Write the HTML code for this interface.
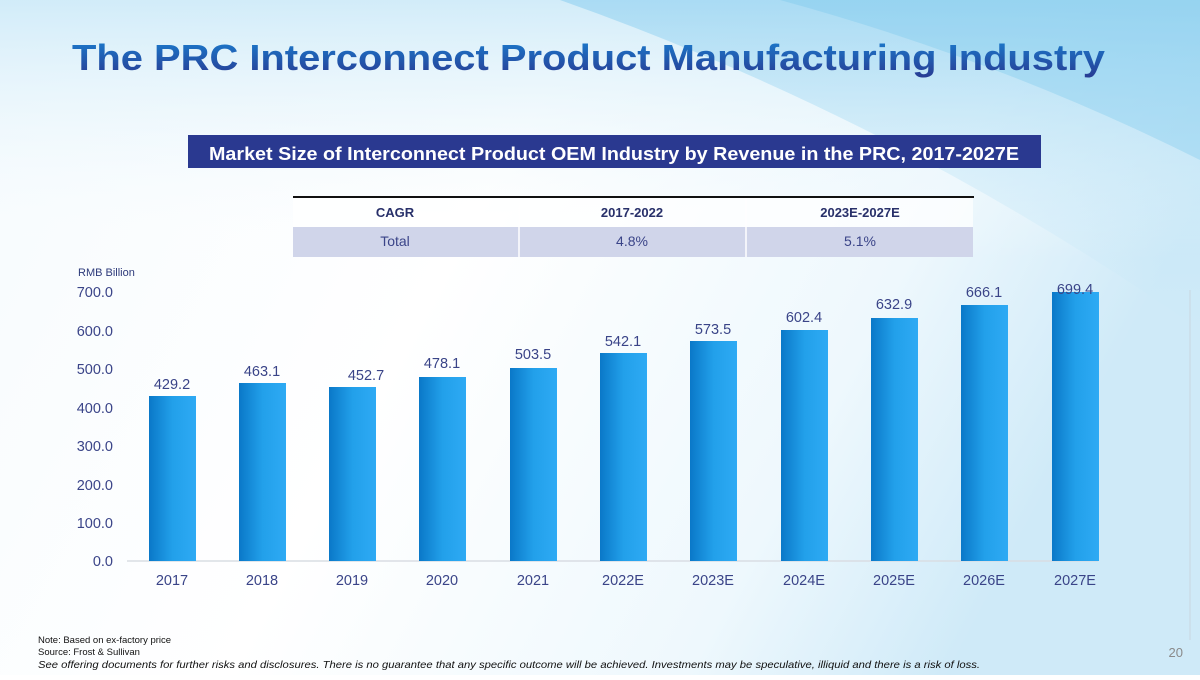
<!DOCTYPE html>
<html><head><meta charset="utf-8"><style>
html,body{margin:0;padding:0;}
body{width:1200px;height:675px;overflow:hidden;}
svg text{font-family:"Liberation Sans",Arial,sans-serif;}
</style></head><body>
<svg width="1200" height="675" viewBox="0 0 1200 675" xmlns="http://www.w3.org/2000/svg">
<defs>
<linearGradient id="bg" x1="0" y1="0" x2="1" y2="0.3">
<stop offset="0" stop-color="#f6fbfe"/>
<stop offset="0.45" stop-color="#ffffff"/>
<stop offset="0.8" stop-color="#eef8fd"/>
<stop offset="1" stop-color="#cfeaf8"/>
</linearGradient>
<linearGradient id="topg" x1="0" y1="0" x2="0" y2="1">
<stop offset="0" stop-color="#cdeaf8" stop-opacity="0.9"/>
<stop offset="1" stop-color="#ffffff" stop-opacity="0"/>
</linearGradient>
<linearGradient id="tt" x1="0" y1="0" x2="0" y2="1">
<stop offset="0" stop-color="#1a7fd0"/>
<stop offset="1" stop-color="#283a92"/>
</linearGradient>
<linearGradient id="bar" x1="0" y1="0" x2="1" y2="0">
<stop offset="0" stop-color="#0a78c8"/>
<stop offset="0.5" stop-color="#22a0ea"/>
<stop offset="1" stop-color="#2eaaf4"/>
</linearGradient>
<linearGradient id="sw" x1="0" y1="0" x2="0" y2="1">
<stop offset="0" stop-color="#8fd0f0" stop-opacity="0.6"/>
<stop offset="1" stop-color="#bfe5f7" stop-opacity="0"/>
</linearGradient>
</defs>
<rect width="1200" height="675" fill="url(#bg)"/>
<rect width="1200" height="260" fill="url(#topg)"/>
<path d="M560 0 L1200 0 L1200 330 Q900 120 560 0Z" fill="url(#sw)"/>
<path d="M780 0 L1200 0 L1200 160 Q1000 60 780 0Z" fill="#6cc2ec" opacity="0.3"/>
<line x1="1190" y1="290" x2="1190" y2="640" stroke="#c9d6df" stroke-width="1"/>

<text x="72" y="70" font-size="36" font-weight="bold" fill="url(#tt)" textLength="1033" lengthAdjust="spacingAndGlyphs">The PRC Interconnect Product Manufacturing Industry</text>

<rect x="188" y="135" width="853" height="33" fill="#2a3990"/>
<text x="614" y="160" font-size="18" font-weight="bold" fill="#fff" text-anchor="middle" textLength="810" lengthAdjust="spacingAndGlyphs">Market Size of Interconnect Product OEM Industry by Revenue in the PRC, 2017-2027E</text>

<rect x="293" y="198" width="680" height="29" fill="#ffffff" opacity="0.7"/>
<rect x="293" y="227" width="680" height="30" fill="#d0d5ea"/>
<line x1="293" y1="197" x2="974" y2="197" stroke="#111" stroke-width="2"/>
<line x1="519" y1="198" x2="519" y2="257" stroke="#fff" stroke-width="1.5"/>
<line x1="746" y1="198" x2="746" y2="257" stroke="#fff" stroke-width="1.5"/>
<g font-size="13" font-weight="bold" fill="#28306a" text-anchor="middle">
<text x="395" y="217">CAGR</text><text x="632" y="217">2017-2022</text><text x="860" y="217">2023E-2027E</text>
</g>
<g font-size="14" fill="#3a4488" text-anchor="middle">
<text x="395" y="246">Total</text><text x="632" y="246">4.8%</text><text x="860" y="246">5.1%</text>
</g>

<text x="78" y="276" font-size="11" fill="#2d3a7a">RMB Billion</text>
<g font-size="14.5" fill="#3a4488" text-anchor="end">
<text x="113" y="297">700.0</text><text x="113" y="336">600.0</text><text x="113" y="374">500.0</text>
<text x="113" y="413">400.0</text><text x="113" y="451">300.0</text><text x="113" y="490">200.0</text>
<text x="113" y="528">100.0</text><text x="113" y="566">0.0</text>
</g>
<line x1="127" y1="561" x2="1098" y2="561" stroke="#d9dde3" stroke-width="1.5"/>
<g fill="url(#bar)">
<rect x="149" y="396" width="47" height="165"/>
<rect x="239" y="383" width="47" height="178"/>
<rect x="329" y="387" width="47" height="174"/>
<rect x="419" y="377" width="47" height="184"/>
<rect x="510" y="368" width="47" height="193"/>
<rect x="600" y="353" width="47" height="208"/>
<rect x="690" y="341" width="47" height="220"/>
<rect x="781" y="330" width="47" height="231"/>
<rect x="871" y="318" width="47" height="243"/>
<rect x="961" y="305" width="47" height="256"/>
<rect x="1052" y="292" width="47" height="269"/>
</g>
<g font-size="14.5" fill="#3a4488" text-anchor="middle">
<text x="172" y="389">429.2</text><text x="262" y="376">463.1</text><text x="366" y="380">452.7</text>
<text x="442" y="368">478.1</text><text x="533" y="359">503.5</text><text x="623" y="346">542.1</text>
<text x="713" y="334">573.5</text><text x="804" y="322">602.4</text><text x="894" y="309">632.9</text>
<text x="984" y="297">666.1</text><text x="1075" y="294">699.4</text>
</g>
<g font-size="14.5" fill="#3a4488" text-anchor="middle">
<text x="172" y="585">2017</text><text x="262" y="585">2018</text><text x="352" y="585">2019</text>
<text x="442" y="585">2020</text><text x="533" y="585">2021</text><text x="623" y="585">2022E</text>
<text x="713" y="585">2023E</text><text x="804" y="585">2024E</text><text x="894" y="585">2025E</text>
<text x="984" y="585">2026E</text><text x="1075" y="585">2027E</text>
</g>
<g font-size="9.5" fill="#111">
<text x="38" y="643">Note: Based on ex-factory price</text>
<text x="38" y="655">Source: Frost &amp; Sullivan</text>
<text x="38" y="668" font-style="italic" font-size="10.5" textLength="942" lengthAdjust="spacingAndGlyphs">See offering documents for further risks and disclosures. There is no guarantee that any specific outcome will be achieved. Investments may be speculative, illiquid and there is a risk of loss.</text>
</g>
<text x="1183" y="657" font-size="13" fill="#8a8a8a" text-anchor="end">20</text>
</svg>
</body></html>
